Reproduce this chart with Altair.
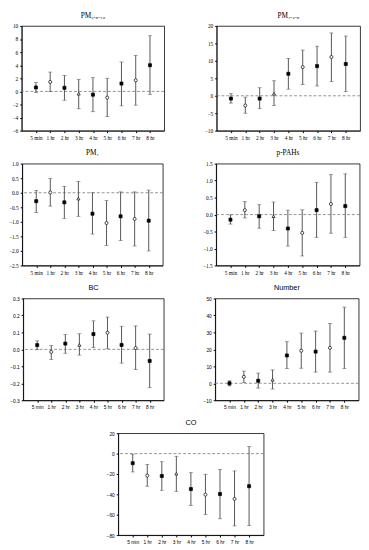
import altair as alt
import pandas as pd

times = ["5 min", "1 hr", "2 hr", "3 hr", "4 hr", "5 hr", "6 hr", "7 hr", "8 hr"]

# PM2.5-10
pm_coarse_est = [0.6, 1.45, 0.55, -0.35, -0.5, -0.95, 1.2, 1.7, 4.0]
pm_coarse_lo = [-0.2, -0.03, -1.35, -2.65, -3.1, -3.85, -2.2, -2.1, -0.45]
pm_coarse_hi = [1.35, 2.95, 2.45, 1.85, 2.1, 2.0, 4.5, 5.5, 8.5]

# PM1-2.5
pm_fine_est = [-0.8, -2.8, -0.8, 0.6, 6.3, 8.2, 8.5, 11.1, 9.1]
pm_fine_lo = [-2.1, -5.0, -3.7, -2.8, 1.9, 3.2, 2.8, 4.1, 1.2]
pm_fine_hi = [0.6, -0.4, 2.3, 4.3, 10.7, 13.1, 14.2, 18.0, 17.1]

# PM1
pm1_est = [-0.29, 0.01, -0.33, -0.2, -0.72, -1.04, -0.81, -0.9, -0.96]
pm1_lo = [-0.68, -0.46, -0.89, -0.81, -1.42, -1.81, -1.64, -1.83, -2.0]
pm1_hi = [0.08, 0.49, 0.22, 0.39, 0.0, -0.27, 0.03, 0.03, 0.09]

# p-PAHs
pah_est = [-0.15, 0.13, -0.05, -0.05, -0.41, -0.54, 0.13, 0.31, 0.25]
pah_lo = [-0.28, -0.1, -0.4, -0.47, -0.93, -1.22, -0.67, -0.55, -0.67]
pah_hi = [-0.01, 0.38, 0.29, 0.37, 0.13, 0.14, 0.95, 1.18, 1.2]

# BC
bc_est = [0.025, -0.015, 0.034, 0.026, 0.09, 0.098, 0.026, 0.008, -0.068]
bc_lo = [-0.002, -0.06, -0.023, -0.034, 0.011, 0.006, -0.081, -0.119, -0.226]
bc_hi = [0.05, 0.023, 0.087, 0.092, 0.168, 0.19, 0.136, 0.138, 0.09]

# Number
num_est = [0.0, 3.8, 1.5, 2.1, 16.4, 19.2, 18.7, 20.9, 26.8]
num_lo = [-1.5, 0.4, -2.8, -3.4, 8.7, 8.9, 6.6, 6.6, 8.7]
num_hi = [1.5, 7.2, 6.0, 7.9, 24.5, 29.6, 30.8, 35.3, 44.9]

# CO
co_est = [-9.4, -21.6, -22.0, -19.7, -34.8, -40.3, -39.7, -44.5, -32.0]
co_lo = [-18.0, -32.0, -36.0, -37.0, -51.0, -59.7, -64.0, -71.0, -70.7]
co_hi = [-0.6, -10.6, -8.0, -2.6, -18.7, -20.3, -15.5, -17.0, 7.0]

SERIF = "Liberation Serif"
SANS = "Liberation Sans"

shape_range = ["square", "circle", "square", "triangle-up", "square", "circle", "square", "circle", "square"]
fill_range = ["black", "white", "black", "white", "black", "white", "black", "white", "black"]


def panel(title, est, lo, hi, ydom, yticks, fmt, font, w=148, h=105):
    fs = 5.5 if font == SERIF else 5
    df = pd.DataFrame({"time": times, "est": est, "lo": lo, "hi": hi})
    x = alt.X("time:N", sort=times,
              scale=alt.Scale(type="point", padding=1),
              axis=alt.Axis(title=None, labelAngle=0, labelFont=font, labelFontSize=fs,
                            labelColor="black", tickSize=2, tickColor="black",
                            domainColor="black", domainWidth=0.8, labelPadding=3))
    yscale = alt.Scale(domain=ydom, nice=False, zero=False)
    yaxis = alt.Axis(title=None, values=yticks, format=fmt, grid=False, labelFont=font,
                     labelFontSize=fs, labelColor="black", tickSize=2, tickColor="black",
                     domainColor="black", domainWidth=0.8, labelPadding=2)
    base = alt.Chart(df).encode(x=x)
    zero = alt.Chart(pd.DataFrame({"z": [0]})).mark_rule(
        color="#777777", strokeDash=[3, 2], strokeWidth=0.8
    ).encode(y=alt.Y("z:Q", scale=yscale, axis=yaxis))
    bars = base.mark_rule(color="#555555", strokeWidth=1).encode(
        y=alt.Y("lo:Q", scale=yscale, axis=yaxis), y2="hi:Q")
    cap_lo = base.mark_tick(color="#555555", size=4, thickness=0.8, orient="horizontal").encode(
        y=alt.Y("lo:Q", scale=yscale, axis=yaxis))
    cap_hi = base.mark_tick(color="#555555", size=4, thickness=0.8, orient="horizontal").encode(
        y=alt.Y("hi:Q", scale=yscale, axis=yaxis))
    pts = base.mark_point(stroke="black", strokeWidth=0.7, opacity=1, size=10).encode(
        y=alt.Y("est:Q", scale=yscale, axis=yaxis),
        shape=alt.Shape("time:N", scale=alt.Scale(domain=times, range=shape_range), legend=None),
        fill=alt.Fill("time:N", scale=alt.Scale(domain=times, range=fill_range), legend=None),
    )
    return alt.layer(zero, bars, cap_lo, cap_hi, pts).properties(
        width=w, height=h,
        title=alt.Title(title, font=font, fontSize=7.5, fontWeight="normal", color="black", offset=5),
    )


p1 = panel("PM₂.₅₋₁₀", pm_coarse_est, pm_coarse_lo, pm_coarse_hi, [-6, 10], list(range(-6, 11, 2)), "d", SERIF, w=147, h=108)
p2 = panel("PM₁₋₂.₅", pm_fine_est, pm_fine_lo, pm_fine_hi, [-10, 20], list(range(-10, 21, 5)), "d", SERIF, h=108)
p3 = panel("PM₁", pm1_est, pm1_lo, pm1_hi, [-2.5, 1.0], [-2.5, -2.0, -1.5, -1.0, -0.5, 0.0, 0.5, 1.0], ".1f", SERIF, w=145)
p4 = panel("p-PAHs", pah_est, pah_lo, pah_hi, [-1.5, 1.5], [-1.5, -1.0, -0.5, 0.0, 0.5, 1.0, 1.5], ".1f", SERIF)
p5 = panel("BC", bc_est, bc_lo, bc_hi, [-0.3, 0.3], [-0.3, -0.2, -0.1, 0.0, 0.1, 0.2, 0.3], ".1f", SANS, w=145)
p6 = panel("Number", num_est, num_lo, num_hi, [-10, 50], list(range(-10, 51, 10)), "d", SANS)
p7 = panel("CO", co_est, co_lo, co_hi, [-80, 20], list(range(-80, 21, 20)), "d", SANS, w=150)

row1 = alt.hconcat(p1, p2, spacing=39)
row2 = alt.hconcat(p3, p4, spacing=39)
row3 = alt.hconcat(p5, p6, spacing=39)

chart = alt.vconcat(row1, row2, row3, p7, spacing=8, center=True).properties(
    padding={"left": 0, "top": -5, "right": 0, "bottom": 0}
).configure_view(stroke="black", strokeWidth=0.8)

chart.save("out.html", embed_options={"renderer": "svg", "actions": False})
